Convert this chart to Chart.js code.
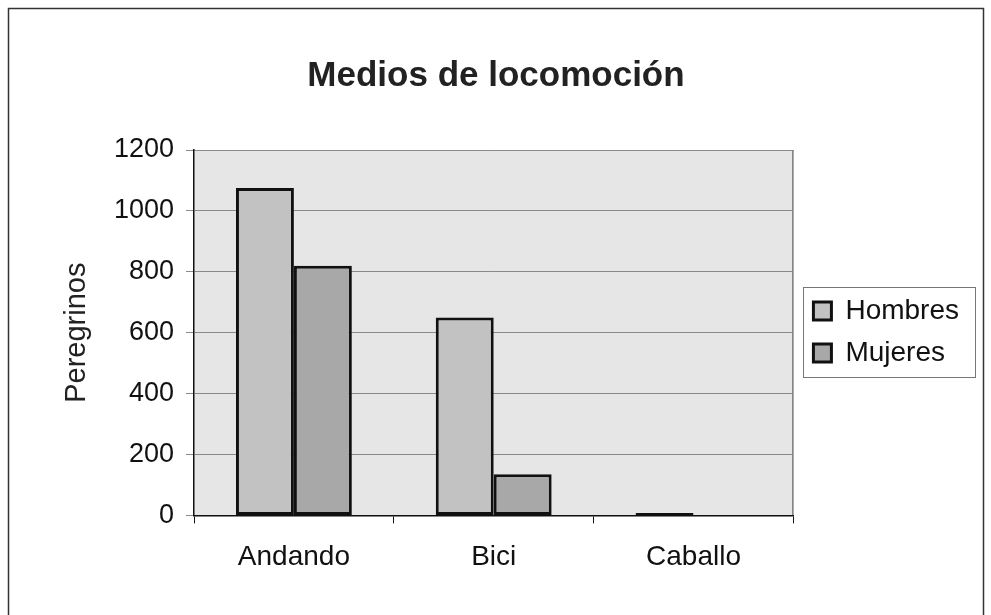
<!DOCTYPE html>
<html>
<head>
<meta charset="utf-8">
<script src="https://cdn.jsdelivr.net/npm/chart.js@4"></script>
<style>
    html, body { margin: 0; padding: 0; background: #fff; }
    #wrap { width: 991px; height: 615px; position: relative; }
</style>
</head>
<body>
<div id="wrap"><canvas id="chart" width="991" height="615"></canvas></div>
<script>
// data
const categories = ["Andando", "Bici", "Caballo"];
const hombres = [1075, 650, 8];
const mujeres = [820, 135, 0];
const yTicks = [0, 200, 400, 600, 800, 1000, 1200];

const FONT = "'Liberation Sans', Arial, sans-serif";
const LEGEND_SHIFT = 6;

// grey plot area, outer frame and legend box
const framePlugin = {
    id: "frame",
    afterLayout(chart) {
        // nudge the legend a bit away from the plot
        const lg = chart.legend;
        lg.left += LEGEND_SHIFT;
        lg.right += LEGEND_SHIFT;
        lg.legendHitBoxes.forEach((h) => { h.left += LEGEND_SHIFT; });
    },
    beforeDraw(chart) {
        const { ctx, chartArea } = chart;
        const { left, top, right, bottom } = chartArea;
        ctx.save();
        ctx.fillStyle = "#e6e6e6";
        ctx.fillRect(left, top, right - left, bottom - top);
        ctx.lineWidth = 1;
        ctx.strokeStyle = "#8c8c8c";
        ctx.beginPath();
        ctx.moveTo(left, top + 0.5);
        ctx.lineTo(right, top + 0.5);
        ctx.stroke();
        ctx.strokeStyle = "#444";
        ctx.beginPath();
        ctx.moveTo(right - 0.5, top);
        ctx.lineTo(right - 0.5, bottom);
        ctx.stroke();
        ctx.strokeStyle = "#333";
        ctx.lineWidth = 1.5;
        ctx.strokeRect(8.5, 8.5, 975, 640);
        ctx.restore();
    },
    afterDraw(chart) {
        const boxes = chart.legend.legendHitBoxes;
        if (!boxes || !boxes.length) return;
        const { ctx } = chart;
        let l = Infinity, t = Infinity, r = -Infinity, b = -Infinity;
        boxes.forEach((h) => {
            l = Math.min(l, h.left);
            t = Math.min(t, h.top);
            r = Math.max(r, h.left + h.width);
            b = Math.max(b, h.top + h.height);
        });
        ctx.save();
        ctx.strokeStyle = "#777";
        ctx.lineWidth = 1;
        ctx.strokeRect(Math.round(l - 16) + 0.5, Math.round(t - 10) + 0.5,
            Math.round(r - l + 26), Math.round(b - t + 20));
        ctx.restore();
    },
};

new Chart(document.getElementById("chart"), {
    type: "bar",
    data: {
        labels: categories,
        datasets: [
            {
                label: "Hombres",
                data: hombres,
                backgroundColor: "#c2c2c2",
                borderColor: "#111",
                borderWidth: 3,
                borderSkipped: false,
            },
            {
                label: "Mujeres",
                data: mujeres,
                backgroundColor: "#a8a8a8",
                borderColor: "#111",
                borderWidth: 3,
                borderSkipped: false,
            },
        ],
    },
    options: {
        responsive: false,
        animation: false,
        layout: { padding: { left: 29, right: 28, top: 55, bottom: 24 } },
        datasets: {
            bar: { categoryPercentage: 0.58, barPercentage: 1.0 },
        },
        plugins: {
            title: {
                display: true,
                text: "Medios de locomoción",
                color: "#222",
                font: { family: FONT, size: 35, weight: "bold" },
                padding: { top: 0, bottom: 53 },
            },
            legend: {
                position: "right",
                title: {
                    // empty spacer, pushes the entries down a little
                    display: true,
                    text: " ",
                    font: { size: 10 },
                    padding: { top: 3, bottom: 3 },
                },
                labels: {
                    color: "#111",
                    font: { family: FONT, size: 28 },
                    boxWidth: 18,
                    boxHeight: 18,
                    padding: 14,
                },
            },
            tooltip: { enabled: false },
        },
        scales: {
            x: {
                grid: {
                    drawOnChartArea: false,
                    drawTicks: true,
                    tickLength: 8,
                    color: "#111",
                },
                border: { color: "#111", width: 1.5 },
                ticks: {
                    color: "#111",
                    font: { family: FONT, size: 28 },
                    padding: 17,
                },
            },
            y: {
                min: 0,
                max: 1200,
                afterBuildTicks(axis) {
                    axis.ticks = yTicks.map((v) => ({ value: v }));
                },
                afterFit(axis) {
                    axis.width = 165;
                },
                grid: {
                    color: "#8a8a8a",
                    tickLength: 8,
                },
                border: { color: "#111", width: 1.5 },
                ticks: {
                    color: "#111",
                    font: { family: FONT, size: 27 },
                    padding: 12,
                    callback: (v) => String(v),
                },
                title: {
                    display: true,
                    text: "Peregrinos",
                    color: "#222",
                    font: { family: FONT, size: 29 },
                    padding: { top: 31, bottom: 10 },
                },
            },
        },
    },
    plugins: [framePlugin],
});
</script>
</body>
</html>
